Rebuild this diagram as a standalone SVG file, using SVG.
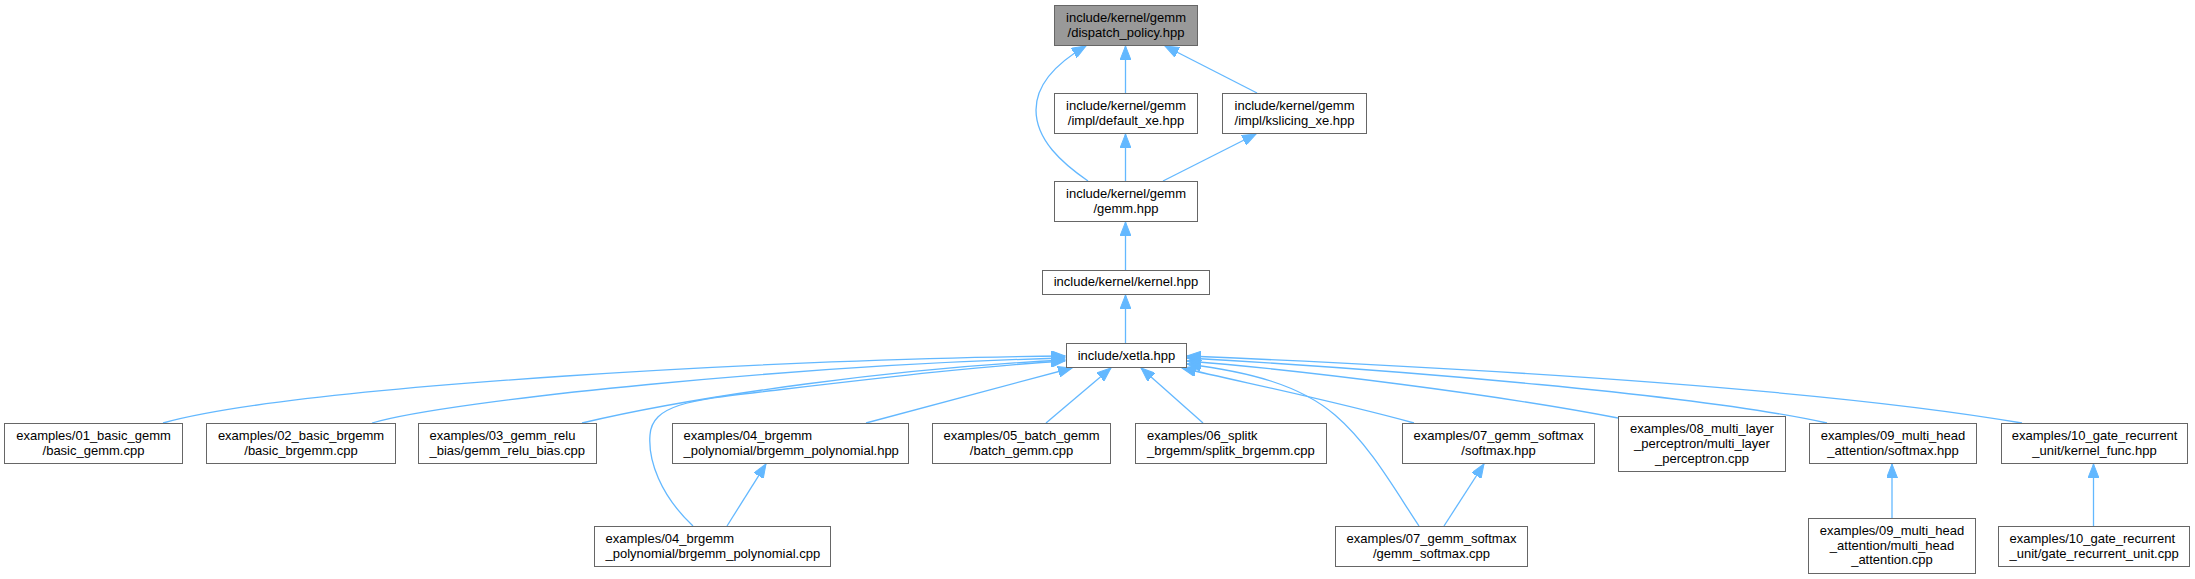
<svg xmlns="http://www.w3.org/2000/svg" width="2195" height="579" viewBox="0 0 2195 579">
<style>
.node rect{fill:#ffffff;stroke:#666666;stroke-width:1}
.node rect.hl{fill:#999999}
.node text{font-family:"Liberation Sans",Arial,sans-serif;font-size:13px;fill:#000000}
.c{text-anchor:middle}
.l{text-anchor:start}
.edge{fill:none;stroke:#63b8ff;stroke-width:1.3;marker-end:url(#arr)}
</style>
<defs>
<marker id="arr" markerUnits="userSpaceOnUse" markerWidth="15" markerHeight="11" viewBox="0 0 15 11" refX="14" refY="5.5" orient="auto">
<path d="M0,0 L14,5.5 L0,11 z" fill="#63b8ff" stroke="#63b8ff" stroke-width="1"/>
</marker>
</defs>
<rect width="2195" height="579" fill="#ffffff"/>
<g id="connectors">
<path class="edge" d="M1125.5,93 L1125.5,46"/>
<path class="edge" d="M1257,93 L1165,46"/>
<path class="edge" d="M1088,181 C1062,163 1036,140 1036,110 C1036,85 1055,64 1086,46"/>
<path class="edge" d="M1125.5,181 L1125.5,134"/>
<path class="edge" d="M1163,181 L1256,134"/>
<path class="edge" d="M1125.5,270 L1125.5,222"/>
<path class="edge" d="M1125.5,343 L1125.5,295"/>
<path class="edge" d="M163,423 C300,385 800,358 1065,356"/>
<path class="edge" d="M372,423 C450,400 800,365 1065,358"/>
<path class="edge" d="M582,423 C700,395 900,368 1065,360"/>
<path class="edge" d="M693,526 C660,495 648,460 650,435 C652,405 690,400 760,392 C880,378 980,366 1065,361"/>
<path class="edge" d="M866,423 C940,403 1010,385 1072,368"/>
<path class="edge" d="M1046,423 L1111,368"/>
<path class="edge" d="M1203,423 L1141,368"/>
<path class="edge" d="M1419,526 C1395,490 1370,445 1335,415 C1300,385 1250,372 1187,364"/>
<path class="edge" d="M1414,423 C1330,400 1250,384 1182,368"/>
<path class="edge" d="M1618,418 C1500,395 1300,370 1187,361"/>
<path class="edge" d="M1827,423 C1700,395 1400,370 1187,358"/>
<path class="edge" d="M2022,423 C1800,385 1400,365 1187,356"/>
<path class="edge" d="M727,526 L766,464"/>
<path class="edge" d="M1444,526 L1484,464"/>
<path class="edge" d="M1892,518 L1892,464"/>
<path class="edge" d="M2093.5,526 L2093.5,464"/>
</g>
<g id="node-dispatch-policy" class="node"><rect class="hl" x="1054.5" y="5.5" width="143" height="40"/><text class="c" x="1126" y="21.5">include/kernel/gemm</text><text class="c" x="1126" y="37">/dispatch_policy.hpp</text></g>
<g id="node-default-xe" class="node"><rect x="1054.5" y="93.5" width="143" height="40"/><text class="c" x="1126" y="109.5">include/kernel/gemm</text><text class="c" x="1126" y="125">/impl/default_xe.hpp</text></g>
<g id="node-kslicing-xe" class="node"><rect x="1222.5" y="93.5" width="144" height="40"/><text class="c" x="1294.5" y="109.5">include/kernel/gemm</text><text class="c" x="1294.5" y="125">/impl/kslicing_xe.hpp</text></g>
<g id="node-gemm" class="node"><rect x="1054.5" y="181.5" width="143" height="40"/><text class="c" x="1126" y="197.5">include/kernel/gemm</text><text class="c" x="1126" y="213">/gemm.hpp</text></g>
<g id="node-kernel" class="node"><rect x="1042.5" y="270.5" width="167" height="24"/><text class="c" x="1126" y="286">include/kernel/kernel.hpp</text></g>
<g id="node-xetla" class="node"><rect x="1066.5" y="343.5" width="120" height="24"/><text class="c" x="1126.5" y="359.5">include/xetla.hpp</text></g>
<g id="node-01" class="node"><rect x="4.5" y="423.5" width="178" height="40"/><text class="c" x="93.5" y="439.5">examples/01_basic_gemm</text><text class="c" x="93.5" y="455">/basic_gemm.cpp</text></g>
<g id="node-02" class="node"><rect x="206.5" y="423.5" width="189" height="40"/><text class="c" x="301" y="439.5">examples/02_basic_brgemm</text><text class="c" x="301" y="455">/basic_brgemm.cpp</text></g>
<g id="node-03" class="node"><rect x="418.5" y="423.5" width="178" height="40"/><text class="l" x="429.5" y="439.5">examples/03_gemm_relu</text><text class="l" x="429.5" y="455">_bias/gemm_relu_bias.cpp</text></g>
<g id="node-04-hpp" class="node"><rect x="672.5" y="423.5" width="236" height="40"/><text class="l" x="683.5" y="439.5">examples/04_brgemm</text><text class="l" x="683.5" y="455">_polynomial/brgemm_polynomial.hpp</text></g>
<g id="node-05" class="node"><rect x="932.5" y="423.5" width="178" height="40"/><text class="c" x="1021.5" y="439.5">examples/05_batch_gemm</text><text class="c" x="1021.5" y="455">/batch_gemm.cpp</text></g>
<g id="node-06" class="node"><rect x="1135.5" y="423.5" width="191" height="40"/><text class="l" x="1147" y="439.5">examples/06_splitk</text><text class="l" x="1147" y="455">_brgemm/splitk_brgemm.cpp</text></g>
<g id="node-07-hpp" class="node"><rect x="1402.5" y="423.5" width="192" height="40"/><text class="c" x="1498.5" y="439.5">examples/07_gemm_softmax</text><text class="c" x="1498.5" y="455">/softmax.hpp</text></g>
<g id="node-08" class="node"><rect x="1618.5" y="416.5" width="167" height="55"/><text class="c" x="1702" y="433">examples/08_multi_layer</text><text class="c" x="1702" y="448">_perceptron/multi_layer</text><text class="c" x="1702" y="462.5">_perceptron.cpp</text></g>
<g id="node-09-hpp" class="node"><rect x="1809.5" y="423.5" width="167" height="40"/><text class="c" x="1893" y="439.5">examples/09_multi_head</text><text class="c" x="1893" y="455">_attention/softmax.hpp</text></g>
<g id="node-10-hpp" class="node"><rect x="2001.5" y="423.5" width="186" height="40"/><text class="c" x="2094.5" y="439.5">examples/10_gate_recurrent</text><text class="c" x="2094.5" y="455">_unit/kernel_func.hpp</text></g>
<g id="node-04-cpp" class="node"><rect x="594.5" y="526.5" width="236" height="40"/><text class="l" x="605.5" y="542.5">examples/04_brgemm</text><text class="l" x="605.5" y="558">_polynomial/brgemm_polynomial.cpp</text></g>
<g id="node-07-cpp" class="node"><rect x="1335.5" y="526.5" width="192" height="40"/><text class="c" x="1431.5" y="542.5">examples/07_gemm_softmax</text><text class="c" x="1431.5" y="558">/gemm_softmax.cpp</text></g>
<g id="node-09-cpp" class="node"><rect x="1808.5" y="518.5" width="167" height="55"/><text class="c" x="1892" y="535">examples/09_multi_head</text><text class="c" x="1892" y="549.5">_attention/multi_head</text><text class="c" x="1892" y="564">_attention.cpp</text></g>
<g id="node-10-cpp" class="node"><rect x="1998.5" y="526.5" width="191" height="40"/><text class="l" x="2009.5" y="542.5">examples/10_gate_recurrent</text><text class="l" x="2009.5" y="558">_unit/gate_recurrent_unit.cpp</text></g>
</svg>
